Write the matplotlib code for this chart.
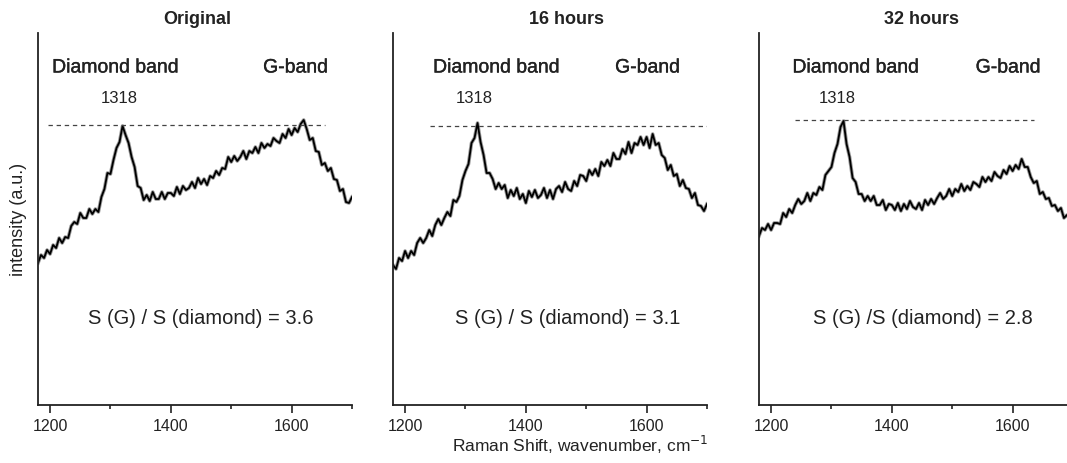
import numpy as np
import matplotlib.pyplot as plt
import matplotlib.patheffects as pe
from matplotlib.ticker import MultipleLocator

plt.rcParams['font.family'] = ['Liberation Sans', 'DejaVu Sans']

# Raman spectra, 1180-1700 cm-1 sampled every 5 cm-1 (intensity in a.u.)
wavenumber = np.arange(1180, 1701, 5)

original = [
    142, 150, 147, 155, 151, 160, 157, 167, 162, 168, 167, 179, 183, 181, 192,
    187, 187, 196, 191, 196, 193, 208, 216, 232, 231, 245, 257, 263, 279, 270,
    262, 248, 238, 219, 217, 205, 210, 204, 213, 206, 206, 213, 206, 212, 212,
    209, 218, 211, 219, 215, 217, 223, 217, 227, 221, 226, 220, 229, 227, 234,
    230, 237, 236, 248, 243, 249, 244, 248, 254, 246, 254, 252, 258, 252, 262,
    257, 261, 259, 267, 264, 262, 271, 267, 276, 270, 277, 273, 281, 285, 276,
    265, 267, 254, 253, 240, 242, 234, 237, 226, 225, 214, 216, 203, 202, 208,
]
hours16 = [
    140, 136, 147, 144, 154, 147, 154, 150, 162, 167, 162, 167, 175, 169, 180,
    186, 180, 187, 193, 189, 205, 203, 209, 225, 234, 241, 262, 267, 282, 263,
    250, 232, 232, 226, 216, 222, 216, 220, 207, 215, 209, 217, 206, 211, 202,
    214, 208, 215, 207, 210, 217, 207, 215, 206, 216, 219, 213, 223, 216, 214,
    224, 219, 230, 229, 224, 235, 230, 236, 229, 243, 239, 245, 239, 252, 246,
    246, 256, 251, 263, 252, 262, 260, 268, 260, 268, 257, 271, 260, 262, 250,
    247, 235, 240, 229, 231, 219, 225, 217, 216, 207, 212, 200, 199, 194, 201,
]
hours32 = [
    169, 177, 175, 181, 175, 182, 182, 181, 192, 188, 196, 192, 200, 206, 201,
    204, 212, 204, 212, 210, 218, 215, 230, 234, 238, 252, 261, 278, 284, 261,
    248, 227, 223, 211, 211, 204, 209, 204, 209, 200, 200, 205, 195, 201, 200,
    195, 202, 194, 201, 196, 204, 198, 196, 202, 195, 205, 200, 206, 201, 207,
    212, 206, 209, 216, 209, 216, 213, 221, 214, 219, 215, 223, 221, 218, 228,
    223, 228, 224, 233, 229, 227, 235, 231, 239, 234, 240, 236, 246, 238, 238,
    228, 222, 224, 211, 213, 206, 207, 199, 200, 194, 197, 187, 190, 186, 187,
]

titles = ['Original', '16 hours', '32 hours']
ratios = ['S (G) / S (diamond) = 3.6', 'S (G) / S (diamond) = 3.1',
          'S (G) /S (diamond) = 2.8']
spectra = [original, hours16, hours32]

# reference level of the diamond peak and its x extent
ref_level = [280, 279, 285]
ref_start = [1197, 1241, 1240]
ref_end = [1656, 1700, 1635]

# label positions (x in cm-1)
title_x = [1444, 1468, 1449]
diamond_x = [1309, 1352, 1341]
gband_x = [1607, 1602, 1593]
peak_x = [1314, 1314, 1309]
ratio_x = [1449, 1469, 1451]

TXT = '#222222'
W, H = 1067, 463
fig = plt.figure(figsize=(W / 100, H / 100), dpi=100)
heavy = [pe.withStroke(linewidth=0.25, foreground=TXT)]

lefts = [38, 393, 759]
for i in range(3):
    ax = fig.add_axes([lefts[i] / W, 58 / H, 314 / W, 372 / H])
    # grey halo under a dark core gives the noisy-trace look
    ax.plot(wavenumber, spectra[i], color='#999999', lw=2.6)
    ax.plot(wavenumber, spectra[i], color='black', lw=1.3)
    ax.hlines(ref_level[i], ref_start[i], ref_end[i], colors='#444444',
              lw=0.9, linestyles=(0, (3.5, 3)))

    ax.set_xlim(1180, 1700)
    ax.set_ylim(0, 372)
    ax.xaxis.set_major_locator(MultipleLocator(200))
    ax.xaxis.set_minor_locator(MultipleLocator(100))
    ax.tick_params(axis='x', which='major', length=6, width=1.2,
                   labelsize=11.5, colors=TXT, pad=4)
    ax.tick_params(axis='x', which='minor', length=3, width=1.2, colors=TXT)
    ax.set_yticks([])
    for s in ['top', 'right']:
        ax.spines[s].set_visible(False)
    for s in ['left', 'bottom']:
        ax.spines[s].set_linewidth(1.3)
        ax.spines[s].set_color(TXT)

    ax.text(title_x[i], 386, titles[i], ha='center', va='center',
            fontsize=13, fontweight='bold', color=TXT, clip_on=False)
    ax.text(diamond_x[i], 337, 'Diamond band', ha='center', va='center',
            fontsize=14, color=TXT, path_effects=heavy)
    ax.text(gband_x[i], 337, 'G-band', ha='center', va='center',
            fontsize=14, color=TXT, path_effects=heavy)
    ax.text(peak_x[i], 307, '1318', ha='center', va='center',
            fontsize=12, color=TXT)
    ax.text(ratio_x[i], 87, ratios[i], ha='center', va='center',
            fontsize=14.5, color=TXT)

    if i == 0:
        ax.set_ylabel('intensity (a.u.)', fontsize=13, color=TXT, labelpad=8)

fig.text(580 / W, (H - 445) / H, 'Raman Shift, wavenumber, cm$^{-1}$',
         ha='center', va='center', fontsize=12.5, color=TXT)

fig.savefig('out.png', dpi=100)
